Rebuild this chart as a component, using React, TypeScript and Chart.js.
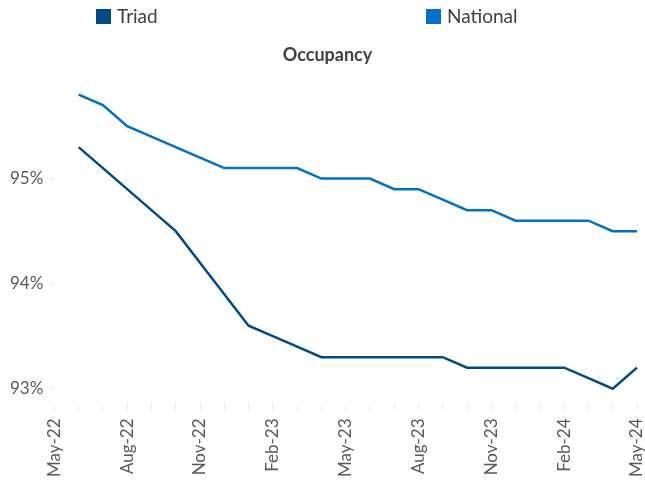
import React, { useEffect, useRef } from "react";
import { Chart, registerables } from "chart.js";

Chart.register(...registerables);

const monthLabels = [
  "May-22", "Jun-22", "Jul-22", "Aug-22", "Sep-22", "Oct-22", "Nov-22", "Dec-22",
  "Jan-23", "Feb-23", "Mar-23", "Apr-23", "May-23", "Jun-23", "Jul-23", "Aug-23",
  "Sep-23", "Oct-23", "Nov-23", "Dec-23", "Jan-24", "Feb-24", "Mar-24", "Apr-24", "May-24",
];

const triadValues = [
  null, 95.3, 95.1, 94.9, 94.7, 94.5, 94.2, 93.9, 93.6, 93.5, 93.4, 93.3, 93.3,
  93.3, 93.3, 93.3, 93.3, 93.2, 93.2, 93.2, 93.2, 93.2, 93.1, 93.0, 93.2,
];

const nationalValues = [
  null, 95.8, 95.7, 95.5, 95.4, 95.3, 95.2, 95.1, 95.1, 95.1, 95.1, 95.0, 95.0,
  95.0, 94.9, 94.9, 94.8, 94.7, 94.7, 94.6, 94.6, 94.6, 94.6, 94.5, 94.5,
];

const yTickValues = [93, 94, 95];

const seriesNames = ["Triad", "National"];
const seriesColors = ["#004A86", "#0070C8"];

const FONT = "Lato, 'Open Sans', sans-serif";

const topLegend = {
  id: "topLegend",
  afterLayout(chart: any, _args: any, opts: any) {
    if (chart.titleBlock) {
      chart.titleBlock.left += opts.titleShift;
    }
  },
  afterDraw(chart: any, _args: any, opts: any) {
    const ctx = chart.ctx;
    ctx.save();
    chart.data.datasets.forEach((ds: any, i: number) => {
      const x = opts.positions[i];
      ctx.fillStyle = ds.borderColor;
      ctx.fillRect(x, 9, 15, 15);
      ctx.fillStyle = "#404040";
      ctx.font = `19px ${FONT}`;
      ctx.textBaseline = "middle";
      ctx.textAlign = "left";
      ctx.fillText(ds.label, x + 21, 17);
    });
    ctx.restore();
  },
};

export default function App() {
  const ref = useRef<HTMLCanvasElement | null>(null);

  useEffect(() => {
    document.body.style.margin = "0";
    if (!ref.current) return;
    const chart = new Chart(ref.current, {
      type: "line",
      data: {
        labels: monthLabels,
        datasets: [
          {
            label: seriesNames[0],
            data: triadValues,
            borderColor: seriesColors[0],
            backgroundColor: seriesColors[0],
            borderWidth: 2.5,
            pointRadius: 0,
            tension: 0,
          },
          {
            label: seriesNames[1],
            data: nationalValues,
            borderColor: seriesColors[1],
            backgroundColor: seriesColors[1],
            borderWidth: 2.5,
            pointRadius: 0,
            tension: 0,
          },
        ],
      },
      plugins: [topLegend],
      options: {
        animation: false,
        responsive: true,
        maintainAspectRatio: false,
        layout: { padding: { top: 34, left: 4, right: 8, bottom: -4 } },
        plugins: {
          legend: { display: false },
          tooltip: { enabled: false },
          title: {
            display: true,
            text: "Occupancy",
            color: "#404040",
            font: { family: FONT, size: 18, weight: "bold" },
            padding: { top: 10, bottom: 8 },
          },
          topLegend: { positions: [96, 426], titleShift: 14 },
        } as any,
        scales: {
          x: {
            type: "category",
            offset: false,
            afterFit: (scale: any) => {
              scale.paddingRight = 8;
            },
            grid: {
              display: true,
              drawOnChartArea: false,
              drawTicks: true,
              tickLength: 5,
              color: "#e6e6e6",
            },
            border: { display: false },
            ticks: {
              autoSkip: false,
              minRotation: 90,
              maxRotation: 90,
              padding: 9,
              color: "#595959",
              font: { family: FONT, size: 17 },
              callback: (_v: any, i: number) => (i % 3 === 0 ? monthLabels[i] : ""),
            },
          },
          y: {
            min: 92.85,
            max: 96,
            afterBuildTicks: (scale: any) => {
              scale.ticks = yTickValues.map((v) => ({ value: v }));
            },
            grid: {
              display: true,
              drawOnChartArea: false,
              drawTicks: true,
              tickLength: 5,
              color: "#e6e6e6",
            },
            border: { display: false },
            ticks: {
              padding: 6,
              color: "#595959",
              font: { family: FONT, size: 17 },
              callback: (v: any) => `${v}%`,
            },
          },
        },
      },
    });
    return () => chart.destroy();
  }, []);

  return (
    <div style={{ width: 645, height: 482, position: "relative" }}>
      <canvas ref={ref} />
    </div>
  );
}
